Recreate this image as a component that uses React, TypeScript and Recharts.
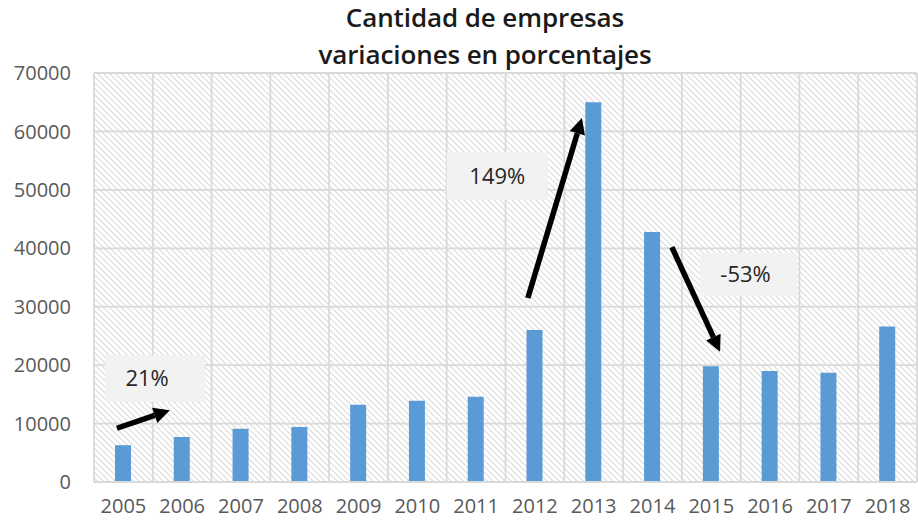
import React from 'react';
import {
  BarChart,
  Bar,
  XAxis,
  YAxis,
  CartesianGrid,
  ReferenceArea,
  ReferenceLine,
} from 'recharts';

const years = ['2005', '2006', '2007', '2008', '2009', '2010', '2011', '2012', '2013', '2014', '2015', '2016', '2017', '2018'];
const empresas = [6300, 7700, 9100, 9400, 13200, 13900, 14600, 26000, 65000, 42800, 19800, 19000, 18700, 26600];
const yTicks = [0, 10000, 20000, 30000, 40000, 50000, 60000, 70000];
const variaciones = ['21%', '149%', '-53%'];

const data = years.map((year, i) => ({ year, slot: i + 0.5, empresas: empresas[i] }));
const slots = years.map((_, i) => i);
slots.push(years.length);

// annotation boxes and arrows, placed on the hidden numeric axis (0..14 across the plot)
const boxes = [
  { x1: 0.19, x2: 1.89, y1: 13700, y2: 21700, dx: -8 },
  { x1: 6.0, x2: 7.72, y1: 48300, y2: 56500, dx: 0 },
  { x1: 10.31, x2: 11.96, y1: 31800, y2: 39200, dx: -3 },
];
const arrows = [
  { from: { x: 0.39, y: 9200 }, to: { x: 1.29, y: 12300 } },
  { from: { x: 7.38, y: 31500 }, to: { x: 8.3, y: 62300 } },
  { from: { x: 9.83, y: 40200 }, to: { x: 10.65, y: 22300 } },
];

const font = '"Open Sans", sans-serif';

const Arrow = (props: any) => {
  const { x1, y1, x2, y2 } = props;
  const ang = Math.atan2(y2 - y1, x2 - x1);
  const len = 16;
  const half = 8;
  const bx = x2 - len * Math.cos(ang);
  const by = y2 - len * Math.sin(ang);
  const px = -Math.sin(ang) * half;
  const py = Math.cos(ang) * half;
  return (
    <g>
      <line x1={x1} y1={y1} x2={bx} y2={by} stroke="#000" strokeWidth={5.5} />
      <polygon points={`${x2},${y2} ${bx + px},${by + py} ${bx - px},${by - py}`} fill="#000" />
    </g>
  );
};

export default function App() {
  return (
    <div style={{ position: 'absolute', left: 0, top: 0, width: 918, height: 524, background: '#fff' }}>
      <div
        style={{
          position: 'absolute',
          top: -1,
          left: 0,
          width: 970,
          textAlign: 'center',
          fontFamily: font,
          fontWeight: 600,
          fontSize: 26,
          letterSpacing: -0.1,
          lineHeight: '37px',
          color: '#1a1a1a',
          zIndex: 2,
        }}
      >
        <div>Cantidad de empresas</div>
        <div>variaciones en porcentajes</div>
      </div>
      <BarChart
        width={918}
        height={524}
        data={data}
        margin={{ top: 73, right: 1, bottom: 0, left: 0 }}
      >
        <defs>
          <pattern id="hatch" patternUnits="userSpaceOnUse" width="6" height="6">
            <rect width="6" height="6" fill="#ffffff" />
            <path d="M0,0 L6,6 M-1,5 L1,7 M5,-1 L7,1" stroke="#dcdcdc" strokeWidth="1.2" />
          </pattern>
        </defs>
        <CartesianGrid
          xAxisId="grid"
          fill="url(#hatch)"
          stroke="#d9d9d9"
          strokeWidth={1.8}
        />
        <XAxis
          dataKey="year"
          height={42}
          interval={0}
          tickLine={false}
          tickSize={0}
          tickMargin={17}
          axisLine={{ stroke: '#d9d9d9', strokeWidth: 1.8 }}
          tick={{ fill: '#595959', fontSize: 20, fontFamily: font }}
        />
        <XAxis
          xAxisId="grid"
          dataKey="slot"
          type="number"
          domain={[0, years.length]}
          ticks={slots}
          padding={{ left: 0, right: 0 }}
          allowDataOverflow
          hide
        />
        <YAxis
          width={94}
          domain={[0, 70000]}
          ticks={yTicks}
          axisLine={false}
          tickLine={false}
          tickSize={0}
          tickMargin={23}
          tick={{ fill: '#595959', fontSize: 20, fontFamily: font }}
        />
        <Bar dataKey="empresas" fill="#5b9bd5" barSize={16} isAnimationActive={false} />
        {boxes.map((b, i) => (
          <ReferenceArea
            key={`box-${i}`}
            xAxisId="grid"
            x1={b.x1}
            x2={b.x2}
            y1={b.y1}
            y2={b.y2}
            fill="#f2f2f2"
            fillOpacity={1}
            stroke="none"
            label={{
              value: variaciones[i],
              position: 'center',
              dx: b.dx,
              fill: '#262626',
              fontSize: 22,
              fontFamily: font,
            }}
          />
        ))}
        {arrows.map((a, i) => (
          <ReferenceLine
            key={`arrow-${i}`}
            xAxisId="grid"
            segment={[a.from, a.to]}
            shape={(p: any) => <Arrow {...p} />}
          />
        ))}
      </BarChart>
    </div>
  );
}
